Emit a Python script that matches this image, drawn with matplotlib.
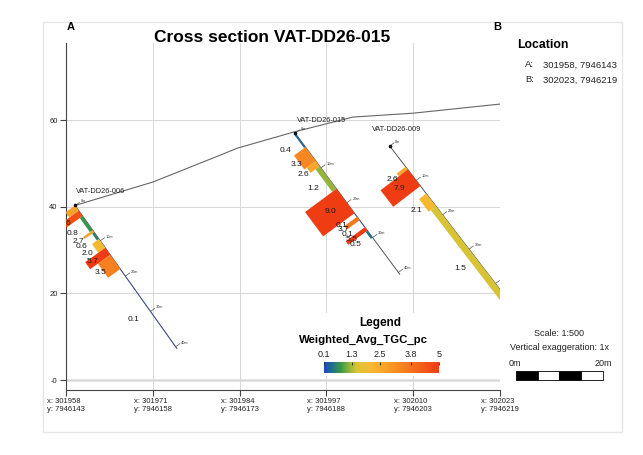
import numpy as np
import matplotlib
matplotlib.use("Agg")
import matplotlib.pyplot as plt
from matplotlib.colors import LinearSegmentedColormap, Normalize
from matplotlib.patches import Polygon, Rectangle
from matplotlib.colorbar import ColorbarBase

plt.rcParams['font.family'] = ['Liberation Sans', 'DejaVu Sans']

# topography along section A-B (distance m, elevation m)
topo_dist = [2.1, 20.0, 35.5, 39.4, 52.3, 66.1, 80.0, 100.0]
topo_elev = [40.3, 45.7, 51.9, 53.5, 57.2, 60.7, 61.6, 63.7]

# drillholes projected on the section
hole_names = ['VAT-DD26-006', 'VAT-DD26-015', 'VAT-DD26-009']
collar_dist = [2.1, 52.8, 74.6]
collar_elev = [40.3, 57.0, 54.0]
hole_dip = [54.6, 53.5, 52.5]
hole_length = [40.5, 40.5, 47.0]

# assay intervals (from m, to m, Weighted_Avg_TGC_pc)
from_006 = [0.0, 1.5, 3.0, 7.0, 7.6, 9.5, 12.0, 14.0, 18.0]
to_006 = [1.5, 3.0, 7.0, 7.6, 9.5, 12.0, 14.0, 18.0, 40.5]
tgc_006 = [2.7, 4.6, 0.8, 2.7, 0.6, 2.0, 5.7, 3.5, 0.1]

from_015 = [0.0, 4.0, 8.0, 9.5, 16.0, 23.0, 24.0, 25.0, 27.0, 28.0]
to_015 = [4.0, 8.0, 9.5, 16.0, 23.0, 24.0, 25.0, 27.0, 28.0, 30.0]
tgc_015 = [0.4, 3.3, 2.6, 1.2, 9.0, 0.1, 3.7, 0.1, 5.5, 0.5]

from_009 = [6.0, 6.8, 13.8, 17.5]
to_009 = [6.8, 11.6, 17.5, 47.0]
tgc_009 = [2.6, 7.9, 2.1, 1.5]

# x axis tick coordinates (easting / northing)
tick_dist = [0, 20, 40, 60, 80, 100]
tick_east = [301958, 301971, 301984, 301997, 302010, 302023]
tick_north = [7946143, 7946158, 7946173, 7946188, 7946203, 7946219]

cbar_ticks = [0.1, 1.3, 2.5, 3.8, 5]
loc_a = '301958, 7946143'
loc_b = '302023, 7946219'

W, H = 643, 455


def fx(px):
    return px / W


def fy(py):
    return 1 - py / H


cmap = LinearSegmentedColormap.from_list('tgc', [
    (0.00, '#1c45c8'), (0.07, '#1d6f8e'), (0.15, '#3a9a45'),
    (0.22, '#8fb53a'), (0.29, '#dcc434'), (0.42, '#f8b730'),
    (0.62, '#f79022'), (0.80, '#f4691c'), (1.00, '#f03c12')])
norm = Normalize(vmin=0.1, vmax=5)

fig = plt.figure(figsize=(W / 100, H / 100), dpi=100)
fig.patch.set_facecolor('white')

# outer frame
fig.add_artist(Rectangle((fx(43), fy(432)), fx(622 - 43), (432 - 22) / H,
                         transform=fig.transFigure, fill=False,
                         edgecolor='#e6e6e6', lw=1))

ax = fig.add_axes([fx(66), fy(390), fx(500 - 66), (390 - 43) / H])
ax.set_xlim(0, 100)
ax.set_ylim(-2.3, 77.8)
for s in ['top', 'right']:
    ax.spines[s].set_visible(False)
for s in ['left', 'bottom']:
    ax.spines[s].set_color('#444444')
    ax.spines[s].set_linewidth(0.8)

ax.set_yticks([0, 20, 40, 60], labels=['-0', '20', '40', '60'])
ax.set_xticks(tick_dist, labels=[f'x: {e}\ny: {n}' for e, n in zip(tick_east, tick_north)])
for lab in ax.get_xticklabels():
    lab.set_multialignment('left')
ax.tick_params(direction='out', length=4, width=0.8, color='#444444',
               labelsize=5.5, labelcolor='#222222', pad=2)
ax.grid(color='#d6d6d6', lw=0.7)
ax.axhline(0, color='#dedede', lw=1.8, zorder=0.5)
ax.set_axisbelow(True)

ax.plot(topo_dist, topo_elev, color='#666666', lw=0.8, zorder=2)

intervals = [(from_006, to_006, tgc_006), (from_015, to_015, tgc_015),
             (from_009, to_009, tgc_009)]
name_offsets = [(0.2, 2.3), (0.4, 2.2), (-4.0, 3.0)]

for i, name in enumerate(hole_names):
    a = np.radians(hole_dip[i])
    u = np.array([np.cos(a), -np.sin(a)])
    n = np.array([-np.sin(a), -np.cos(a)])
    c = np.array([collar_dist[i], collar_elev[i]])

    def pt(d):
        return c + d * u

    end = pt(hole_length[i])
    ax.plot([c[0], end[0]], [c[1], end[1]], color='#555555', lw=0.7, zorder=3)
    ax.plot(c[0], c[1], 'o', color='#111111', ms=1.6, zorder=6)

    f, t, v = intervals[i]
    for d0, d1, val in zip(f, t, v):
        p0, p1 = pt(d0), pt(d1)
        poly = [p0, p1, p1 + val * n, p0 + val * n]
        ax.add_patch(Polygon(poly, closed=True, facecolor=cmap(norm(val)),
                             edgecolor='none', zorder=4))
    for d0, d1, val in zip(f, t, v):
        m = pt((d0 + d1) / 2) + 4.2 * n
        ax.text(m[0], m[1], f'{val:.1f}', fontsize=6, color='#1a1a1a',
                ha='center', va='center', zorder=7, clip_on=True)

    for d in range(0, int(hole_length[i]) + 1, 10):
        p = pt(d)
        q = p - 1.2 * n
        ax.plot([p[0], q[0]], [p[1], q[1]], color='#555555', lw=0.5, zorder=3)
        r = p - 1.6 * n
        ax.text(r[0], r[1], f'{d}m', fontsize=2.8, color='#333333',
                ha='left', va='center', zorder=7, clip_on=True)

    dx, dy = name_offsets[i]
    ax.text(c[0] + dx, c[1] + dy, name, fontsize=5.3, color='#222222',
            ha='left', va='bottom', zorder=7)

# title and section ends
fig.text(fx(272), fy(37), 'Cross section VAT-DD26-015', fontsize=12.5,
         fontweight='bold', ha='center', va='center')
fig.text(fx(71), fy(27), 'A', fontsize=8, fontweight='bold', ha='center', va='center')
fig.text(fx(497), fy(27), 'B', fontsize=8, fontweight='bold', ha='center', va='center')

# location box
fig.text(fx(517), fy(45), 'Location', fontsize=8.8, fontweight='bold', ha='left', va='center')
fig.text(fx(525), fy(65), 'A:', fontsize=6.8, color='#222222', ha='left', va='center')
fig.text(fx(543), fy(65), loc_a, fontsize=6.8, color='#222222', ha='left', va='center')
fig.text(fx(525), fy(80), 'B:', fontsize=6.8, color='#222222', ha='left', va='center')
fig.text(fx(543), fy(80), loc_b, fontsize=6.8, color='#222222', ha='left', va='center')

# legend
fig.add_artist(Rectangle((fx(296), fy(376)), fx(442 - 296), (376 - 313) / H,
                         transform=fig.transFigure, facecolor='white',
                         edgecolor='none', zorder=5))
fig.text(fx(380), fy(323), 'Legend', fontsize=8.5, fontweight='bold',
         ha='center', va='center', zorder=6)
fig.text(fx(363), fy(340), 'Weighted_Avg_TGC_pc', fontsize=8.2, fontweight='bold',
         ha='center', va='center', zorder=6)
cax = fig.add_axes([fx(323.5), fy(373), fx(439 - 323.5), (373 - 362) / H], zorder=6)
cb = ColorbarBase(cax, cmap=cmap, norm=norm, orientation='horizontal', ticks=cbar_ticks)
cb.outline.set_visible(False)
cax.xaxis.set_ticks_position('top')
cax.set_xticklabels(['0.1', '1.3', '2.5', '3.8', '5'])
cax.tick_params(direction='in', length=2.5, width=0.6, color='#222222',
                labelsize=6.5, pad=2, labelcolor='#222222')

# scale bar
fig.text(fx(559), fy(333), 'Scale: 1:500', fontsize=6.5, color='#222222', ha='center', va='center')
fig.text(fx(559), fy(348), 'Vertical exaggeration: 1x', fontsize=6.5, color='#222222',
         ha='center', va='center')
sax = fig.add_axes([fx(516), fy(380), fx(86.8), 9 / H])
sax.set_xlim(0, 20)
sax.set_ylim(0, 1)
sax.axis('off')
for k in range(4):
    sax.add_patch(Rectangle((k * 5, 0), 5, 1, facecolor='black' if k % 2 == 0 else 'white',
                            edgecolor='black', lw=0.6, clip_on=False))
fig.text(fx(509), fy(364), '0m', fontsize=6.5, color='#222222', ha='left', va='center')
fig.text(fx(612), fy(364), '20m', fontsize=6.5, color='#222222', ha='right', va='center')

fig.savefig('out.png', dpi=100)
